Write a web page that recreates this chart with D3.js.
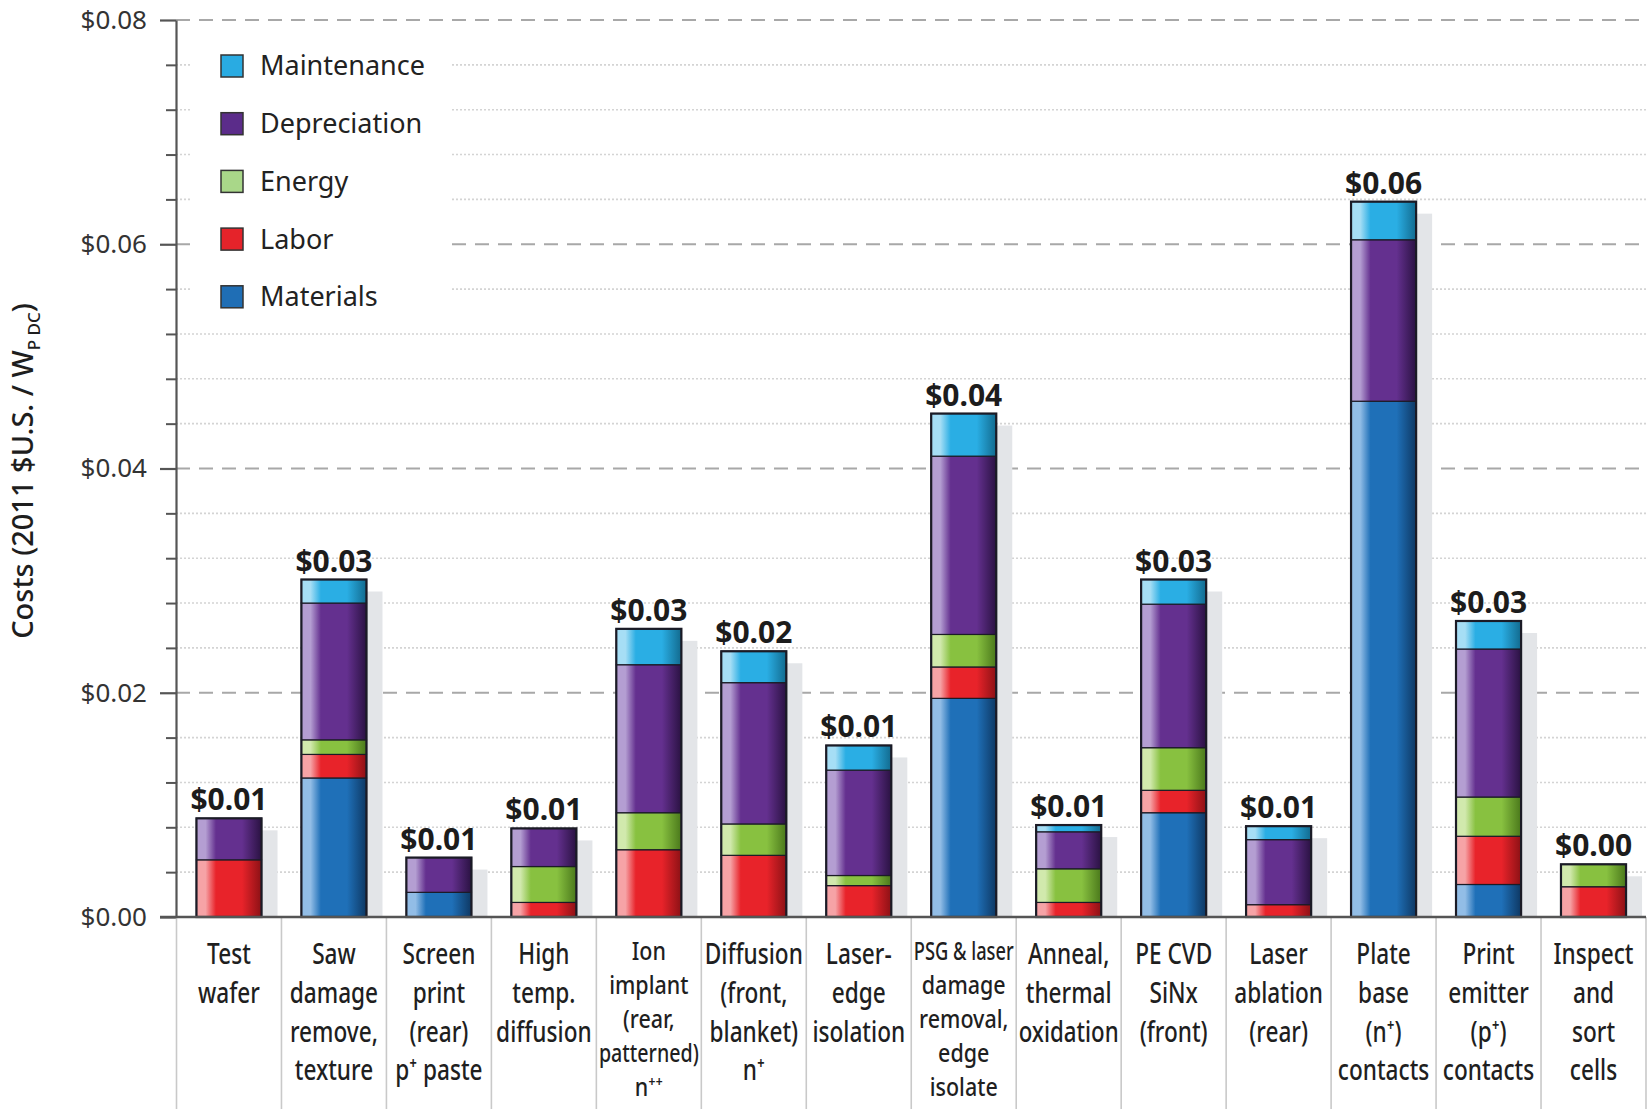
<!DOCTYPE html>
<html>
<head>
<meta charset="utf-8">
<script src="https://cdn.jsdelivr.net/npm/d3@7"></script>
<style>
  html, body { margin: 0; padding: 0; background: #fff; }
  svg { display: block; font-family: "Noto Sans", "Open Sans", sans-serif; }
</style>
</head>
<body>
<svg id="chart" width="1647" height="1109"></svg>
<script>
// ---------- DATA ----------
const categories = [
  ["Test", "wafer"],
  ["Saw", "damage", "remove,", "texture"],
  ["Screen", "print", "(rear)", "p\u207A paste"],
  ["High", "temp.", "diffusion"],
  ["Ion", "implant", "(rear,", "patterned)", "n\u207A\u207A"],
  ["Diffusion", "(front,", "blanket)", "n\u207A"],
  ["Laser-", "edge", "isolation"],
  ["PSG & laser", "damage", "removal,", "edge", "isolate"],
  ["Anneal,", "thermal", "oxidation"],
  ["PE CVD", "SiNx", "(front)"],
  ["Laser", "ablation", "(rear)"],
  ["Plate", "base", "(n\u207A)", "contacts"],
  ["Print", "emitter", "(p\u207A)", "contacts"],
  ["Inspect", "and", "sort", "cells"]
];
const materials    = [0,      0.0124, 0.0022, 0,      0,      0,      0,      0.0195, 0,      0.0093, 0,      0.0460, 0.0029, 0];
const labor        = [0.0051, 0.0021, 0,      0.0013, 0.0060, 0.0055, 0.0028, 0.0028, 0.0013, 0.0020, 0.0011, 0,      0.0043, 0.0027];
const energy       = [0,      0.0013, 0,      0.0032, 0.0033, 0.0028, 0.0009, 0.0029, 0.0030, 0.0038, 0,      0,      0.0035, 0.0020];
const depreciation = [0.0037, 0.0122, 0.0031, 0.0034, 0.0132, 0.0126, 0.0094, 0.0159, 0.0033, 0.0128, 0.0058, 0.0144, 0.0132, 0];
const maintenance  = [0,      0.0021, 0,      0,      0.0032, 0.0028, 0.0022, 0.0038, 0.0006, 0.0022, 0.0012, 0.0034, 0.0025, 0];
const totalLabels  = ["$0.01","$0.03","$0.01","$0.01","$0.03","$0.02","$0.01","$0.04","$0.01","$0.03","$0.01","$0.06","$0.03","$0.00"];
const seriesKeys   = ["Materials", "Labor", "Energy", "Depreciation", "Maintenance"];
const legendKeys   = ["Maintenance", "Depreciation", "Energy", "Labor", "Materials"];
const majorTicks   = [0, 0.02, 0.04, 0.06, 0.08];
const minorTicks   = [0.004,0.008,0.012,0.016,0.024,0.028,0.032,0.036,0.044,0.048,0.052,0.056,0.064,0.068,0.072,0.076];
const yTitle       = ["Costs (2011 $U.S. / W", "P DC", ")"];

// ---------- STYLE ----------
const pal = {
  Materials:    {light:"#92bde6", base:"#1f70b8", dark:"#0e3863", legend:"#1f6eb5"},
  Labor:        {light:"#f6a3a6", base:"#e8232a", dark:"#8c1115", legend:"#e5232a"},
  Energy:       {light:"#d1e9ad", base:"#88c140", dark:"#4a781b", legend:"#a9d789"},
  Depreciation: {light:"#b49ed2", base:"#64308f", dark:"#2a1242", legend:"#5b2c8a"},
  Maintenance:  {light:"#a6def5", base:"#2aaee4", dark:"#126a8e", legend:"#29abe2"}
};

const svg = d3.select("#chart");
const W = 1647, H = 1109;

const rows = categories.map((c, i) => ({
  i: i,
  Materials: materials[i], Labor: labor[i], Energy: energy[i],
  Depreciation: depreciation[i], Maintenance: maintenance[i]
}));

const y = d3.scaleLinear().domain([0, 0.08]).range([917, 20]);
const x = d3.scaleBand().domain(d3.range(categories.length)).range([176.5, 1646]).padding(0);
const barW = x.bandwidth() * 0.62;
const bx = i => x(i) + (x.bandwidth() - barW) / 2;

// gradients
const defs = svg.append("defs");
seriesKeys.forEach(k => {
  const g = defs.append("linearGradient").attr("id", "g-" + k)
    .attr("x1", 0).attr("x2", 1).attr("y1", 0).attr("y2", 0);
  g.append("stop").attr("offset", "0").attr("stop-color", pal[k].light);
  g.append("stop").attr("offset", "0.14").attr("stop-color", pal[k].light);
  g.append("stop").attr("offset", "0.30").attr("stop-color", pal[k].base);
  g.append("stop").attr("offset", "0.70").attr("stop-color", pal[k].base);
  g.append("stop").attr("offset", "1").attr("stop-color", pal[k].dark);
});

// ---------- GRID ----------
const xL = 176, xR = 1646;
svg.append("g").selectAll("line").data(minorTicks).join("line")
  .attr("x1", xL).attr("x2", xR).attr("y1", d => y(d)).attr("y2", d => y(d))
  .attr("stroke", "#d4d4d4").attr("stroke-width", 1.6).attr("stroke-dasharray", "2,2");
svg.append("g").selectAll("line").data(majorTicks.filter(d => d > 0)).join("line")
  .attr("x1", xL).attr("x2", xR).attr("y1", d => y(d)).attr("y2", d => y(d))
  .attr("stroke", "#a8a8a8").attr("stroke-width", 1.8).attr("stroke-dasharray", "14,9");

// legend background (covers grid)
svg.append("rect").attr("x", 190).attr("y", 38).attr("width", 262).attr("height", 285).attr("fill", "#fff");

// ---------- AXES ----------
const yAxis = d3.axisLeft(y).tickValues(majorTicks)
  .tickFormat(d => "$" + d.toFixed(2)).tickSize(16).tickSizeOuter(0).tickPadding(13);
const gY = svg.append("g").attr("transform", `translate(${xL},0)`).call(yAxis);
gY.select(".domain").attr("stroke", "#555").attr("stroke-width", 2.2);
gY.selectAll(".tick line").attr("stroke", "#555").attr("stroke-width", 2.2);
gY.selectAll(".tick text").attr("font-size", 26).attr("fill", "#333")
  .attr("font-family", "Noto Sans, sans-serif");

const yMinor = d3.axisLeft(y).tickValues(minorTicks).tickFormat("").tickSize(10).tickSizeOuter(0);
const gYm = svg.append("g").attr("transform", `translate(${xL},0)`).call(yMinor);
gYm.select(".domain").remove();
gYm.selectAll(".tick line").attr("stroke", "#555").attr("stroke-width", 2);

// category separators below baseline
const seps = d3.range(categories.length + 1).map(i => i < categories.length ? x(i) : x.range()[1]);
svg.append("g").selectAll("line").data(seps).join("line")
  .attr("x1", d => d).attr("x2", d => d).attr("y1", y(0)).attr("y2", H)
  .attr("stroke", "#c9c9c9").attr("stroke-width", 1.6);

// ---------- BARS ----------
const stacked = d3.stack().keys(seriesKeys)(rows);
const totals = rows.map(r => seriesKeys.reduce((s, k) => s + r[k], 0));

// shadows
svg.append("g").selectAll("rect").data(rows).join("rect")
  .attr("x", d => bx(d.i) + 16).attr("width", barW)
  .attr("y", d => y(totals[d.i]) + 12)
  .attr("height", d => y(0) - y(totals[d.i]) - 12)
  .attr("fill", "#e3e5e8");

const gBars = svg.append("g");
stacked.forEach(s => {
  gBars.append("g").selectAll("rect").data(s.filter(d => d[1] - d[0] > 0)).join("rect")
    .attr("x", d => bx(d.data.i)).attr("width", barW)
    .attr("y", d => y(d[1])).attr("height", d => y(d[0]) - y(d[1]))
    .attr("fill", "url(#g-" + s.key + ")")
    .attr("stroke", "#1b1b26").attr("stroke-width", 1.2);
});
// bar outlines
svg.append("g").selectAll("rect").data(rows).join("rect")
  .attr("x", d => bx(d.i)).attr("width", barW)
  .attr("y", d => y(totals[d.i])).attr("height", d => y(0) - y(totals[d.i]))
  .attr("fill", "none").attr("stroke", "#1b1b26").attr("stroke-width", 2.2);

// baseline
svg.append("line").attr("x1", 160).attr("x2", xR).attr("y1", y(0)).attr("y2", y(0))
  .attr("stroke", "#555").attr("stroke-width", 2.6);

// value labels
svg.append("g").selectAll("text").data(rows).join("text")
  .attr("x", d => bx(d.i) + barW / 2).attr("y", d => y(totals[d.i]) - 8)
  .attr("text-anchor", "middle").attr("font-size", 30).attr("font-weight", 700)
  .attr("fill", "#1c1c1c").text(d => totalLabels[d.i]);

// category labels
const gCat = svg.append("g");
categories.forEach((lines, i) => {
  const five = lines.length >= 5;
  const lh = five ? 34 : 38.8;
  const fs = five ? 25 : 29;
  const y0 = five ? 960 : 964;
  const cx = x(i) + x.bandwidth() / 2;
  lines.forEach((ln, j) => {
    const t = gCat.append("text")
      .attr("text-anchor", "middle").attr("font-size", fs).attr("font-weight", 500)
      .attr("fill", "#1f1f1f").text(ln);
    const len = t.node().getComputedTextLength();
    const s = Math.min(five ? 0.86 : 0.78, 100 / len);
    t.attr("transform", `translate(${cx},${y0 + j * lh}) scale(${s},1)`);
  });
});

// ---------- LEGEND ----------
const gLeg = svg.append("g");
legendKeys.forEach((k, i) => {
  const cy = 66 + i * 57.7;
  gLeg.append("rect").attr("x", 221).attr("y", cy - 11).attr("width", 22).attr("height", 22)
    .attr("fill", pal[k].legend).attr("stroke", "#333").attr("stroke-width", 1.5);
  gLeg.append("text").attr("x", 260).attr("y", cy).attr("dy", "0.35em")
    .attr("font-size", 27).attr("fill", "#222").text(k);
});

// ---------- Y TITLE ----------
const tt = svg.append("text").attr("transform", "translate(33,471) rotate(-90)")
  .attr("text-anchor", "middle").attr("font-size", 29).attr("font-weight", 500).attr("fill", "#1e1e1e");
tt.append("tspan").text(yTitle[0]);
tt.append("tspan").attr("font-size", 17).attr("dy", 7).text(yTitle[1]);
tt.append("tspan").attr("dy", -7).text(yTitle[2]);
</script>
</body>
</html>
